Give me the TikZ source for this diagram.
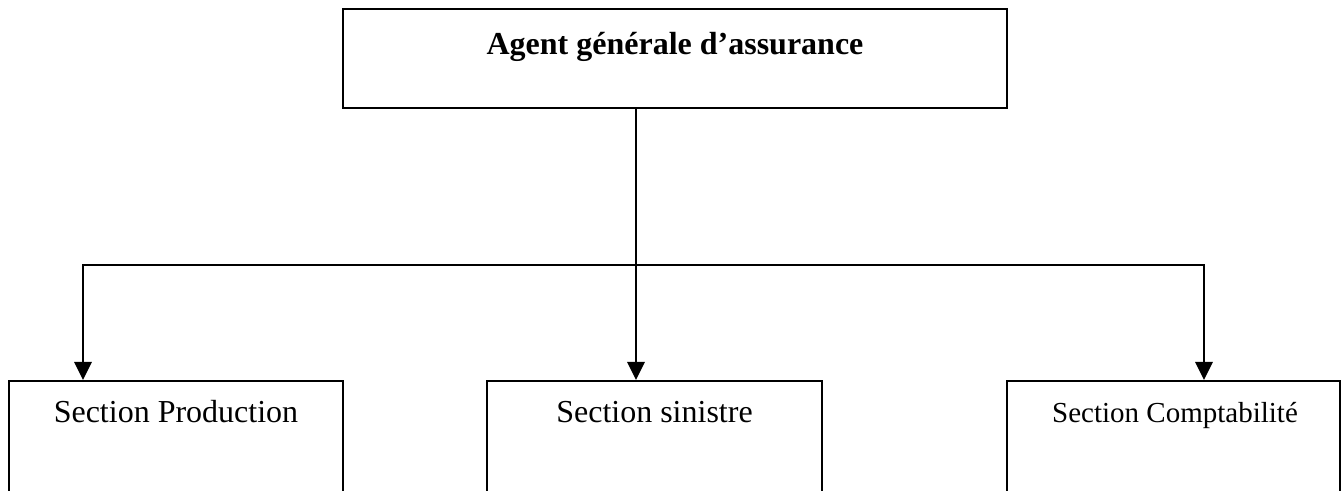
\documentclass[tikz,border=0pt]{standalone}
\usepackage{fontspec}
\setmainfont{Liberation Serif}
\usepackage{tikz}
\usetikzlibrary{positioning,arrows.meta}

\tikzset{
  unitbox/.style={draw, line width=1pt, minimum width=#1, minimum height=80pt, inner sep=0pt},
  unitlabel/.style={anchor=base, inner sep=0pt, font=\fontsize{16}{19}\selectfont},
  link/.style={line width=1pt, line cap=rect},
  arrowlink/.style={line width=1.4pt, -{Triangle[length=9pt,width=8.5pt]}}
}

\begin{document}
\begin{tikzpicture}[x=0.5pt, y=-0.5pt]
\useasboundingbox (0,0) rectangle (1344,491);
\clip (0,0) rectangle (1344,491);

\node[draw, line width=1pt, minimum width=332pt, minimum height=49.5pt, inner sep=0pt] at (675,58.5)(agent){};
\node[unitlabel, font=\fontsize{16}{19}\selectfont\bfseries] at (675,55)(agenttext){Agent générale d’assurance};

\node[unitbox=167pt] at (176,461)(prod){};
\node[unitbox=167.5pt] at (654.5,461)(sinistre){};
\node[unitbox=166.5pt] at (1173.5,461)(compta){};

\node[unitlabel] at (176,423)(prodtext){Section Production};
\node[unitlabel] at (654.5,423)(sinistretext){Section sinistre};
\node[unitlabel, font=\fontsize{14.5}{17}\selectfont] at (1175,423)(comptatext){Section Comptabilité};

\coordinate (busL) at (83,265);
\coordinate (hub) at (636,265);
\coordinate (busR) at (1204,265);

\draw[link] (agent.south -| hub) -- (hub);
\draw[link] (busL) -- (busR);
\draw[arrowlink] (busL) -- (busL |- prod.north);
\draw[arrowlink] (hub) -- (hub |- sinistre.north);
\draw[arrowlink] (busR) -- (busR |- compta.north);
\end{tikzpicture}
\end{document}
